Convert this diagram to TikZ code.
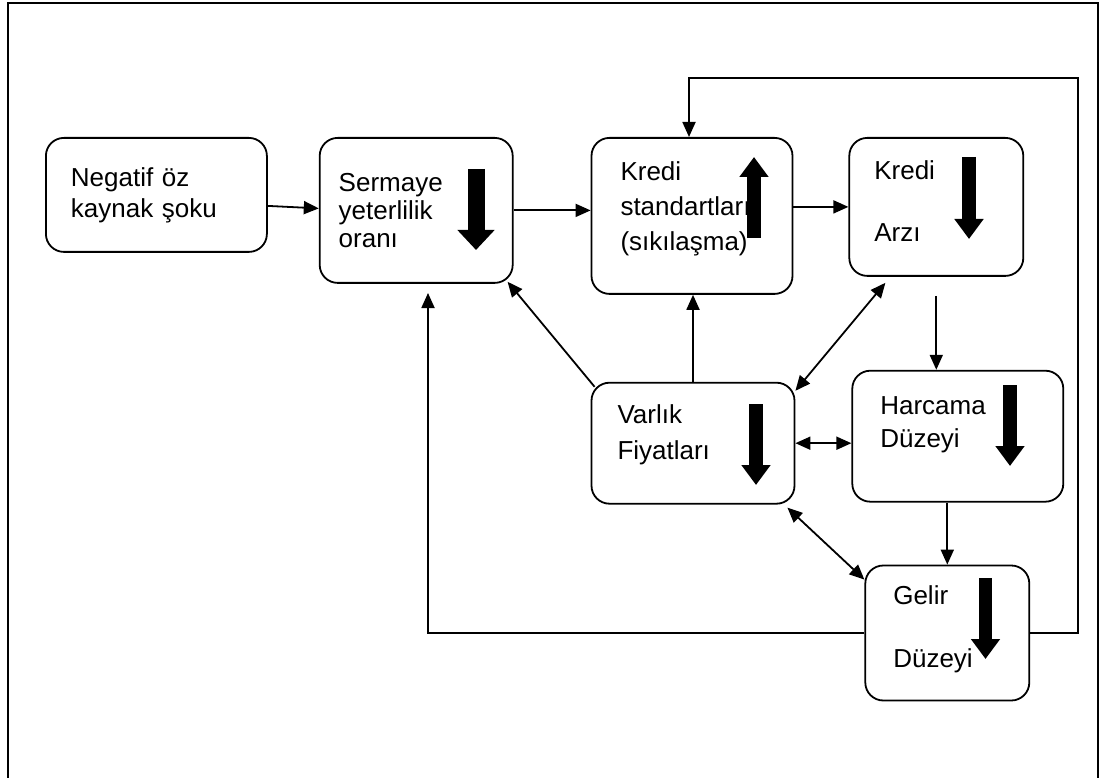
\documentclass[tikz,border=0pt]{standalone}
\usepackage{fontspec}
\setmainfont{Liberation Sans}
\usetikzlibrary{positioning,arrows.meta}

\begin{document}
\begin{tikzpicture} [x=1pt, y=-1pt, line width=1.8pt,
                    >={Triangle[length=15pt,width=13pt]},
                    kutu/.style={draw,rounded corners=18pt,align=left,anchor=north west,
                                 inner ysep=0pt,font=\fontsize{26}{31}\selectfont},
                    kalinok/.style={line width=14pt,-{Triangle[length=20pt,width=28pt]}}]

\useasboundingbox (0,0) rectangle (1101,778);
\draw (8,778.5) -- (8,3) -- (1098,3) -- (1098,778.5);
\draw[line width=0.8pt, gray!60] (8,778) -- (1098,778);

\node[kutu, text width=171pt, inner xsep=25pt, minimum height=114pt] (N) at (45,137) {Negatif öz\\kaynak şoku};
\node[kutu, text width=155pt, inner xsep=19pt, minimum height=145pt, font=\fontsize{26}{28}\selectfont] (S) [right=51pt of N.north east, anchor=north west] {Sermaye\\yeterlilik\\oranı};
\node[kutu, text width=143pt, inner xsep=29pt, minimum height=156pt, font=\fontsize{26}{35}\selectfont] (KS) [right=77pt of S.north east, anchor=north west] {Kredi\\standartları\\(sıkılaşma)\\[-15pt]\mbox{}};
\node[kutu, text width=124pt, inner xsep=25pt, minimum height=138pt] (KA) [right=55pt of KS.north east, anchor=north west] {Kredi\\[31pt]Arzı\\[-20pt]\mbox{}};
\node[kutu, text width=151pt, inner xsep=26pt, minimum height=121pt, font=\fontsize{26}{36}\selectfont] (V) [below=87pt of KS.south west, anchor=north west] {Varlık\\Fiyatları\\[-13pt]\mbox{}};
\node[kutu, text width=155pt, inner xsep=28pt, minimum height=131pt, font=\fontsize{26}{33}\selectfont] (H) [below=93pt of KA.south west, anchor=north west, xshift=3pt] {Harcama\\Düzeyi\\[-5pt]\mbox{}};
\node[kutu, text width=108pt, inner xsep=28pt, minimum height=135pt] (G) [below=62pt of H.south west, anchor=north west, xshift=13pt] {Gelir\\[32pt]Düzeyi\\[-18pt]\mbox{}};

\coordinate (fbr) at (1078,78);
\coordinate (fbl) at (428,293);

% kalin oklar
\draw[kalinok, line width=17pt, -{Triangle[length=20pt,width=36pt]}] (476,169) -- (476,250);
\draw[kalinok] (754,238) -- (754,157);
\draw[kalinok] (969,157) -- (969,239);
\draw[kalinok] (756,404) -- (756,485);
\draw[kalinok] (1010,385) -- (1010,466);
\draw[kalinok, line width=13pt] (985.5,578) -- (985.5,659);

 \path[->]
    ([yshift=-11pt]N.east) edge ([yshift=2pt]S.west)
    (S.east) edge (S.east -| KS.west)
    ([yshift=9pt]KS.east) edge ([yshift=9pt]KS.east -| KA.west)
    ([yshift=-19pt]KA.south) edge (KA.south |- H.north)
    (V.north) edge (V.north |- KS.south)
    ([xshift=4pt,yshift=-5pt]V.north west) edge ([xshift=-6pt,yshift=2pt]S.south east)
    ([xshift=37pt,yshift=-6pt]KA.south west) edge[<->] ([yshift=-9pt]V.north east)
    (V.east) edge[<->] (V.east -| H.west)
    (G.north |- H.south) edge (G.north)
    ([xshift=-8pt,yshift=-3pt]V.south east) edge[<->] ([yshift=-15pt]G.north west);

\draw[->] (G.east) -| (fbr) -| ([xshift=-3pt]KS.north);
\draw[->] (G.west) -| (fbl);
\end{tikzpicture}
\end{document}
